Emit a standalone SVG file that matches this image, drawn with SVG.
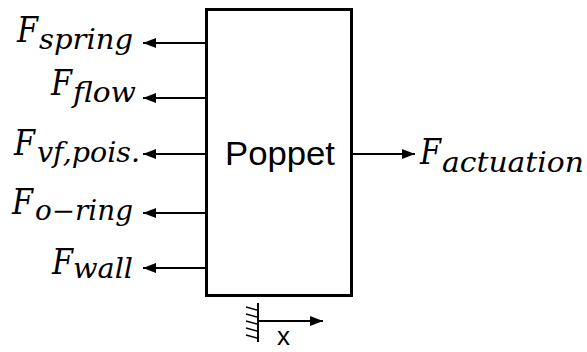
<svg xmlns="http://www.w3.org/2000/svg" width="587" height="352" viewBox="0 0 587 352">
<style>
.F{font-family:"DejaVu Serif","Liberation Serif",serif;font-style:italic;font-size:35px;fill:#000}
.s{font-family:"DejaVu Serif","Liberation Serif",serif;font-style:italic;font-size:27px;fill:#000}
.ln{stroke:#000;stroke-width:2;fill:none}
.sans{font-family:"Liberation Sans",Arial,sans-serif;fill:#000}
</style>
<defs>
<marker id="ah" markerWidth="13" markerHeight="10" refX="13" refY="5" orient="auto" markerUnits="userSpaceOnUse">
<path d="M0,0 L13,5 L0,10 Z" fill="#000"/>
</marker>
</defs>
<rect width="587" height="352" fill="#fff"/>
<g id="poppet">
<rect x="206.5" y="9.5" width="145" height="286" fill="#fff" stroke="#000" stroke-width="3"/>
<text class="sans" x="225" y="165" font-size="34" textLength="110" lengthAdjust="spacingAndGlyphs">Poppet</text>
</g>
<g id="connectors">
<line class="ln" x1="205" y1="43" x2="143" y2="43" marker-end="url(#ah)"/>
<line class="ln" x1="205" y1="98" x2="143" y2="98" marker-end="url(#ah)"/>
<line class="ln" x1="205" y1="154" x2="143" y2="154" marker-end="url(#ah)"/>
<line class="ln" x1="205" y1="213" x2="143" y2="213" marker-end="url(#ah)"/>
<line class="ln" x1="205" y1="268" x2="143" y2="268" marker-end="url(#ah)"/>
<line class="ln" x1="352" y1="154" x2="415" y2="154" marker-end="url(#ah)"/>
</g>
<g id="f-spring">
<text class="F" x="17" y="42" textLength="21" lengthAdjust="spacingAndGlyphs">F</text>
<text class="s" x="39" y="49" textLength="94" lengthAdjust="spacingAndGlyphs">spring</text>
</g>
<g id="f-flow">
<text class="F" x="51" y="95" textLength="21" lengthAdjust="spacingAndGlyphs">F</text>
<text class="s" x="73" y="102" textLength="63" lengthAdjust="spacingAndGlyphs">flow</text>
</g>
<g id="f-vf-pois">
<text class="F" x="14" y="155" textLength="21" lengthAdjust="spacingAndGlyphs">F</text>
<text class="s" x="37" y="162" textLength="103" lengthAdjust="spacingAndGlyphs">vf,pois.</text>
</g>
<g id="f-o-ring">
<text class="F" x="12" y="214" textLength="21" lengthAdjust="spacingAndGlyphs">F</text>
<text class="s" x="35" y="220" textLength="98" lengthAdjust="spacingAndGlyphs">o−ring</text>
</g>
<g id="f-wall">
<text class="F" x="52" y="274" textLength="21" lengthAdjust="spacingAndGlyphs">F</text>
<text class="s" x="73" y="278" textLength="60" lengthAdjust="spacingAndGlyphs">wall</text>
</g>
<g id="f-actuation">
<text class="F" x="420" y="164" textLength="21" lengthAdjust="spacingAndGlyphs">F</text>
<text class="s" x="442" y="172" textLength="142" lengthAdjust="spacingAndGlyphs">actuation</text>
</g>
<g id="x-axis">
<line x1="258" y1="303" x2="258" y2="342" stroke="#000" stroke-width="2"/>
<g stroke="#000" stroke-width="1.5">
<line x1="246" y1="307" x2="257" y2="310"/>
<line x1="246" y1="314" x2="257" y2="317"/>
<line x1="246" y1="321" x2="257" y2="324"/>
<line x1="246" y1="328" x2="257" y2="331"/>
<line x1="246" y1="335" x2="257" y2="338"/>
</g>
<line class="ln" x1="258" y1="321" x2="323" y2="321" marker-end="url(#ah)"/>
<text class="sans" x="277" y="345" font-size="26">x</text>
</g>
</svg>
